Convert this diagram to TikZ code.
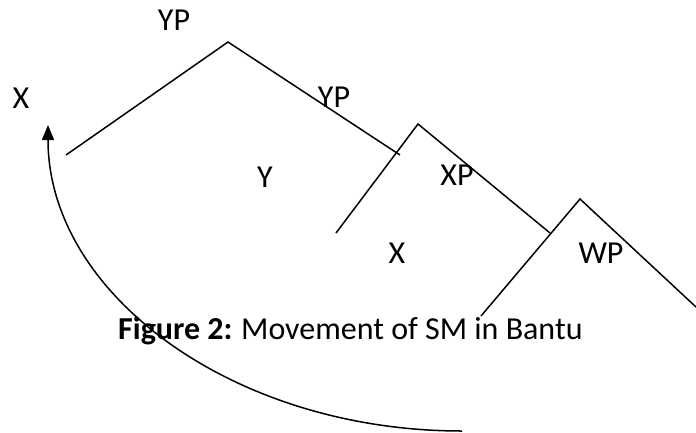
\documentclass[tikz,border=0pt]{standalone}
\usepackage{fontspec}
\setmainfont{Carlito}
\usetikzlibrary{arrows.meta}
\begin{document}
\begin{tikzpicture}[x=1pt,y=-1pt,
  lbl/.style={inner sep=0pt, font=\fontsize{32}{36}\selectfont},
  branch/.style={line width=1.5pt, line cap=butt},
  move/.style={line width=1.5pt, -{Triangle[width=12pt,length=15pt]}}]
\useasboundingbox (0,0) rectangle (696,432);
% tree points
\coordinate (a1) at (228,42);
\coordinate (l1) at (66,155);
\coordinate (r1) at (400,155);
\coordinate (a2) at (418,124);
\coordinate (l2) at (336,233);
\coordinate (r2) at (550,233);
\coordinate (a3) at (580,199);
\coordinate (l3) at (481,316);
\coordinate (r3) at (696,307);
\draw[branch] (l1) -- (a1) -- (r1);
\draw[branch] (l2) -- (a2) -- (r2);
\draw[branch] (l3) -- (a3) -- (r3);
% labels
\node[lbl] (yp1) at (174,20) {YP};
\node[lbl] (xm) at (21,98) {X};
\node[lbl] (yp2) at (334,97) {YP};
\node[lbl] (y) at (265,177) {Y};
\node[lbl] (xp) at (457,175) {XP};
\node[lbl] (x) at (397,253) {X};
\node[lbl] (wp) at (601,253) {WP};
\node[lbl, anchor=base west] (cap) at (118,339) {\textbf{Figure 2:}\hspace{-1pt} Movement of SM in Bantu};
% movement arrow
\coordinate (m0) at (462,431);
\draw[move] (m0) arc[start angle=90, end angle=180, x radius=414, y radius=306] coordinate (m1);
\end{tikzpicture}
\end{document}
